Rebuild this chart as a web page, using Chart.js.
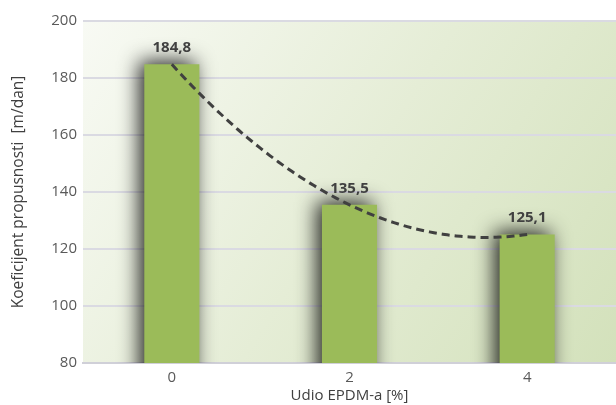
<!DOCTYPE html>
<html>
<head>
<meta charset="utf-8">
<script src="https://cdn.jsdelivr.net/npm/chart.js@4"></script>
<style>
  html, body { margin: 0; padding: 0; background: #fff; }
  #wrap { width: 616px; height: 405px; }
</style>
</head>
<body>
<div id="wrap"><canvas id="chart" width="616" height="405"></canvas></div>
<script>
// Udio EPDM-a vs koeficijent propusnosti
const categories = ['0', '2', '4'];
const epdmShare = [0, 2, 4];
const permeability = [184.8, 135.5, 125.1];
const yTicks = [80, 100, 120, 140, 160, 180, 200];

const FONT = '"Open Sans", "Noto Sans", sans-serif';

// least squares polynomial (degree 2) trendline, like the spreadsheet one
function quadFit(xs, ys) {
    let s = [0, 0, 0, 0, 0], t = [0, 0, 0];
    xs.forEach((x, i) => {
        for (let k = 0; k < 5; k++) s[k] += Math.pow(x, k);
        for (let k = 0; k < 3; k++) t[k] += ys[i] * Math.pow(x, k);
    });
    const m = [[s[0], s[1], s[2], t[0]], [s[1], s[2], s[3], t[1]], [s[2], s[3], s[4], t[2]]];
    for (let c = 0; c < 3; c++) {
        for (let r = c + 1; r < 3; r++) {
            const f = m[r][c] / m[c][c];
            for (let k = c; k < 4; k++) m[r][k] -= f * m[c][k];
        }
    }
    const a = [0, 0, 0];
    for (let r = 2; r >= 0; r--) {
        let v = m[r][3];
        for (let k = r + 1; k < 3; k++) v -= m[r][k] * a[k];
        a[r] = v / m[r][r];
    }
    return x => a[0] + a[1] * x + a[2] * x * x;
}

// light green gradient behind the plot area
const plotBackground = {
    id: 'plotBackground',
    beforeDraw(chart) {
        const { ctx, chartArea: a } = chart;
        const g = ctx.createLinearGradient(a.left, a.top, a.right, a.bottom);
        g.addColorStop(0, '#f8faf4');
        g.addColorStop(0.5, '#e5edd6');
        g.addColorStop(1, '#d3e1bb');
        ctx.save();
        ctx.fillStyle = g;
        ctx.fillRect(a.left, a.top, a.right - a.left, a.bottom - a.top);
        ctx.restore();
    }
};

// soft dark shadow round the bars
const barShadow = {
    id: 'barShadow',
    beforeDatasetDraw(chart, args) {
        if (args.meta.type !== 'bar') return;
        const ctx = chart.ctx;
        ctx.save();
        ctx.shadowColor = 'rgba(0,0,0,0.85)';
        ctx.shadowBlur = 20;
        ctx.shadowOffsetX = -5;
        ctx.shadowOffsetY = -3;
    },
    afterDatasetDraw(chart, args) {
        if (args.meta.type !== 'bar') return;
        chart.ctx.restore();
    }
};

// dashed polynomial trendline + value labels above bars
const trendAndLabels = {
    id: 'trendAndLabels',
    afterDatasetsDraw(chart) {
        const ctx = chart.ctx;
        const xs = chart.scales.x, ys = chart.scales.y;
        const f = quadFit(epdmShare, permeability);
        const x0 = epdmShare[0], x1 = epdmShare[epdmShare.length - 1];
        const p0 = xs.getPixelForValue(0), p1 = xs.getPixelForValue(epdmShare.length - 1);
        ctx.save();
        ctx.beginPath();
        for (let i = 0; i <= 80; i++) {
            const xv = x0 + (x1 - x0) * i / 80;
            const px = p0 + (p1 - p0) * (xv - x0) / (x1 - x0);
            const py = ys.getPixelForValue(f(xv));
            if (i === 0) ctx.moveTo(px, py); else ctx.lineTo(px, py);
        }
        ctx.strokeStyle = '#404040';
        ctx.lineWidth = 3;
        ctx.setLineDash([8, 5]);
        ctx.stroke();
        ctx.restore();

        const meta = chart.getDatasetMeta(0);
        ctx.save();
        ctx.font = 'bold 15px ' + FONT;
        ctx.fillStyle = '#404040';
        ctx.textAlign = 'center';
        ctx.textBaseline = 'bottom';
        meta.data.forEach((bar, idx) => {
            const txt = permeability[idx].toFixed(1).replace('.', ',');
            ctx.fillText(txt, bar.x, bar.y - 9);
        });
        ctx.restore();
    }
};

new Chart(document.getElementById('chart').getContext('2d'), {
    type: 'bar',
    data: {
        labels: categories,
        datasets: [{
            label: 'Koeficijent propusnosti',
            data: permeability,
            backgroundColor: '#9bbb59',
            categoryPercentage: 1,
            barPercentage: 0.31
        }]
    },
    options: {
        responsive: false,
        animation: false,
        layout: { padding: { top: 21, right: 0, left: 0, bottom: 0 } },
        plugins: {
            legend: { display: false },
            tooltip: { enabled: false }
        },
        scales: {
            x: {
                offset: true,
                grid: { display: false },
                border: { color: '#d0d0d8', width: 2 },
                ticks: { color: '#595959', font: { family: FONT, size: 15 }, padding: -2 },
                title: {
                    display: true, text: 'Udio EPDM-a [%]', color: '#404040',
                    font: { family: FONT, size: 15 }, padding: { top: 1, bottom: 0 }
                },
                afterFit(s) { s.height = 42; }
            },
            y: {
                min: 80, max: 200,
                afterBuildTicks(s) { s.ticks = yTicks.map(v => ({ value: v })); },
                grid: { color: '#dadae2', lineWidth: 2, drawTicks: false },
                border: { display: false },
                ticks: { color: '#595959', font: { family: FONT, size: 15 }, padding: 6 },
                title: {
                    display: true, text: 'Koeficijent propusnosti  [m/dan]', color: '#404040',
                    font: { family: FONT, size: 15.5 }, padding: { top: 9, bottom: 0 }
                },
                afterFit(s) { s.width = 83; }
            }
        }
    },
    plugins: [plotBackground, barShadow, trendAndLabels]
});
</script>
</body>
</html>
